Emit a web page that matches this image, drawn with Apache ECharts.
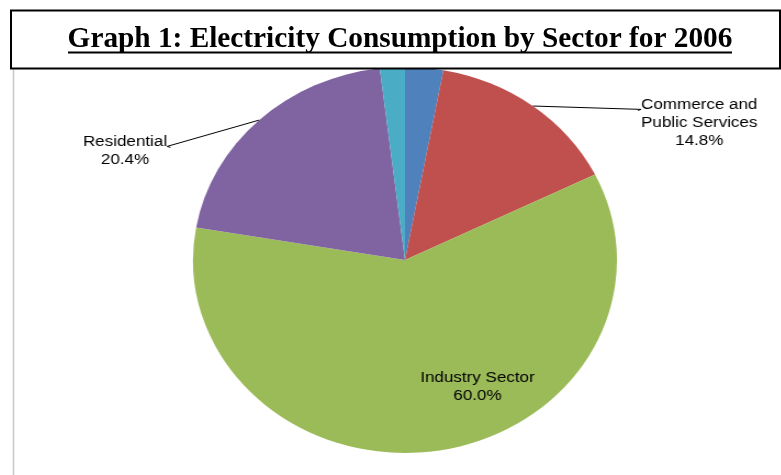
<!DOCTYPE html>
<html><head><meta charset="utf-8">
<script src="https://cdn.jsdelivr.net/npm/echarts@6/dist/echarts.min.js"></script>
<style>
html,body{margin:0;padding:0;width:781px;height:475px;overflow:hidden;background:#fff;}
#pie,#frame{position:absolute;left:0;top:0;width:781px;height:475px;}
#pie{transform:scaleX(1.098);transform-origin:405px 0;}
</style></head><body>
<div id="pie"></div><div id="frame"></div>
<script>
// ---- data ----
const categories = ['Transport', 'Commerce and Public Services', 'Industry Sector', 'Residential', 'Other'];
const shares = [2.9, 14.8, 60.0, 20.4, 1.9];
const showLabel = [false, true, true, true, false];
const insideLabel = [false, false, true, false, false];
const colors = ['#4F81BD', '#C0504D', '#9BBB59', '#8064A2', '#4BACC6'];
const titleText = 'Graph 1: Electricity Consumption by Sector for 2006';
// label block centres (layout, in the pie's own unscaled space)
const labelCenters = [null, [673, 123], [471, 387], [150, 151], null];

const CX = 405, CY = 260, R = 193, LH = 18;

const pieChart = echarts.init(document.getElementById('pie'), null, {renderer: 'canvas'});
pieChart.setOption({
  animation: false,
  backgroundColor: 'transparent',
  series: [{
    type: 'pie',
    center: [CX, CY],
    radius: R,
    startAngle: 90,
    clockwise: true,
    avoidLabelOverlap: false,
    itemStyle: {borderWidth: 0},
    emphasis: {disabled: true},
    label: {
      color: '#000',
      fontFamily: 'Liberation Sans, Arial, sans-serif',
      fontSize: 15.5,
      lineHeight: LH,
      formatter: p => p.name.replace('and ', 'and\n') + '\n' + p.value.toFixed(1) + '%'
    },
    labelLine: {show: true, length: 10, length2: 10, smooth: false, lineStyle: {color: '#000', width: 1}},
    labelLayout: function (params) {
      const c = labelCenters[params.dataIndex];
      if (!c) return {};
      const out = {x: c[0], y: c[1], align: 'center', verticalAlign: 'middle'};
      const pts = params.labelLinePoints;
      if (pts && pts.length) {
        const w = params.labelRect.width, h = params.labelRect.height;
        const side = c[0] > CX ? -1 : 1;
        const ex = c[0] + side * (w / 2 + 3);
        const ey = c[1] - h / 2 + LH * 0.8;
        out.labelLinePoints = [pts[0], [ex - side * 3, ey - 1], [ex, ey]];
      }
      return out;
    },
    data: categories.map((name, i) => ({
      name: name,
      value: shares[i],
      itemStyle: {color: colors[i]},
      label: {show: showLabel[i], position: insideLabel[i] ? 'inside' : 'outside'},
      labelLine: {show: showLabel[i] && !insideLabel[i]}
    }))
  }]
});

const frame = echarts.init(document.getElementById('frame'), null, {renderer: 'canvas'});
frame.setOption({
  animation: false,
  backgroundColor: 'transparent',
  title: {
    text: titleText,
    left: 400,
    textAlign: 'center',
    top: 25,
    padding: 0,
    textStyle: {fontFamily: 'Liberation Serif, Times New Roman, serif', fontWeight: 'bold', fontSize: 29.3, color: '#000'}
  },
  graphic: [
    {type: 'line', z: 1, shape: {x1: 13.5, y1: 68, x2: 13.5, y2: 475}, style: {stroke: '#c8c8c8', lineWidth: 1.5}},
    {type: 'rect', z: 5, shape: {x: 11, y: 10.5, width: 769, height: 58}, style: {fill: '#fff', stroke: '#000', lineWidth: 2}},
    {type: 'line', z: 6, shape: {x1: 68, y1: 52.5, x2: 732, y2: 52.5}, style: {stroke: '#000', lineWidth: 2}}
  ]
});
</script>
</body></html>
